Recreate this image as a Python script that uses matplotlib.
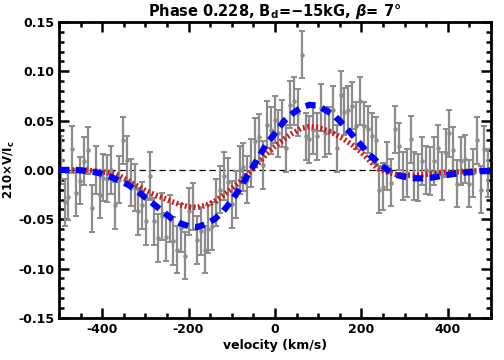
import numpy as np
import matplotlib
matplotlib.use("Agg")
import matplotlib.pyplot as plt
from matplotlib.ticker import MultipleLocator

vel_start = -496.0
vel_step = 9.0
stokes_v = [
    0.010, -0.033, -0.027, 0.021, -0.023, -0.011, 0.009, 0.020, -0.039, 0.000,
    -0.025, -0.008, -0.009, 0.000, -0.036, -0.010, 0.030, 0.010, -0.013, -0.018,
    -0.042, -0.036, -0.052, -0.006, -0.052, -0.069, -0.047, -0.068, -0.049, -0.072,
    -0.081, -0.059, -0.087, -0.042, -0.037, -0.071, -0.062, -0.081, -0.060, -0.057,
    -0.033, -0.020, -0.006, -0.012, -0.035, -0.025, 0.000, 0.003, -0.010, 0.007,
    0.029, 0.033, 0.005, 0.046, 0.040, 0.051, 0.037, 0.047, 0.022, 0.066,
    0.070, 0.058, 0.117, 0.034, 0.031, 0.040, 0.034, 0.063, 0.037, 0.040,
    0.061, 0.022, 0.076, 0.059, 0.061, 0.065, 0.045, 0.070, 0.045, 0.041,
    0.034, 0.030, -0.020, -0.017, 0.004, -0.013, 0.041, 0.024, -0.006, -0.003,
    0.031, -0.006, -0.008, 0.009, 0.000, -0.001, 0.009, 0.022, -0.006, 0.017,
    0.037, 0.020, -0.014, 0.009, 0.011, -0.014, -0.003, 0.030, -0.020, 0.021,
    -0.003,
]
v_err = 0.024

# model profiles on a 20 km/s grid
model_vel = list(range(-500, 501, 20))
model_blue = [
    0.000, 0.000, 0.000, -0.001, -0.002, -0.004, -0.007, -0.011, -0.015, -0.021,
    -0.028, -0.035, -0.042, -0.049, -0.054, -0.057, -0.058, -0.055, -0.050, -0.042,
    -0.031, -0.018, -0.003, 0.011, 0.026, 0.037, 0.049, 0.057, 0.063, 0.066,
    0.065, 0.060, 0.054, 0.045, 0.035, 0.025, 0.015, 0.007, 0.000, -0.005,
    -0.007, -0.0085, -0.0085, -0.008, -0.0065, -0.005, -0.0037, -0.0027, -0.002, -0.0013,
    -0.001,
]
model_red = [
    0.000, 0.000, 0.000, 0.000, -0.001, -0.002, -0.003, -0.006, -0.011, -0.016,
    -0.021, -0.025, -0.028, -0.032, -0.035, -0.0375, -0.038, -0.036, -0.032, -0.026,
    -0.019, -0.0115, -0.003, 0.006, 0.016, 0.024, 0.031, 0.037, 0.042, 0.044,
    0.043, 0.040, 0.036, 0.031, 0.025, 0.018, 0.009, 0.001, -0.002, -0.0045,
    -0.0055, -0.0055, -0.005, -0.004, -0.003, -0.0025, -0.002, -0.0015, -0.001, -0.0005,
    0.000,
]

vel = vel_start + vel_step * np.arange(len(stokes_v))

plt.rcParams['font.family'] = 'DejaVu Sans'
plt.rcParams['font.weight'] = 'bold'
plt.rcParams['mathtext.default'] = 'bf'

fig = plt.figure(figsize=(5.04, 3.6), dpi=100)
ax = fig.add_axes([0.117, 0.117, 0.857, 0.822])

ax.axhline(0, color='k', lw=0.9, ls=(0, (5, 3)), zorder=1)
ax.errorbar(vel, stokes_v, yerr=v_err, fmt='o', ms=2.2, color='#8c8c8c',
            ecolor='#8c8c8c', elinewidth=1.6, capsize=2.5, capthick=1.4, zorder=2)
ax.plot(model_vel, model_red, color='#d01818', lw=4, ls=(0, (0.35, 0.45)), zorder=3)
ax.plot(model_vel, model_blue, color='#0000ff', lw=4.5, ls=(0, (1.6, 1.1)), zorder=4)

ax.set_xlim(-500, 500)
ax.set_ylim(-0.15, 0.15)
ax.xaxis.set_major_locator(MultipleLocator(200))
ax.xaxis.set_minor_locator(MultipleLocator(50))
ax.yaxis.set_major_locator(MultipleLocator(0.05))
ax.yaxis.set_minor_locator(MultipleLocator(0.01))
ax.yaxis.set_major_formatter(plt.FuncFormatter(lambda y, p: '%.2f' % y if abs(y) > 1e-9 else '0.00'))
ax.xaxis.set_major_formatter(plt.FuncFormatter(lambda x, p: '%d' % x))
ax.tick_params(which='both', direction='in', top=True, right=True, width=1.8,
               labelsize=9)
ax.tick_params(axis='y', pad=3)
ax.tick_params(which='major', length=7)
ax.tick_params(which='minor', length=3.5)
for s in ax.spines.values():
    s.set_linewidth(2)

ax.set_xlabel('velocity (km/s)', fontsize=9, fontweight='bold', labelpad=2)
ax.set_ylabel('210×V/I$_c$', fontsize=8.5, fontweight='bold')
ax.yaxis.set_label_coords(-0.098, 0.5)
ax.set_title('Phase 0.228, B$_d$=−15kG, $\\mathit{\\beta}$= 7°', fontsize=10.5,
             fontweight='bold', pad=4)

fig.savefig('out.png', dpi=100)
